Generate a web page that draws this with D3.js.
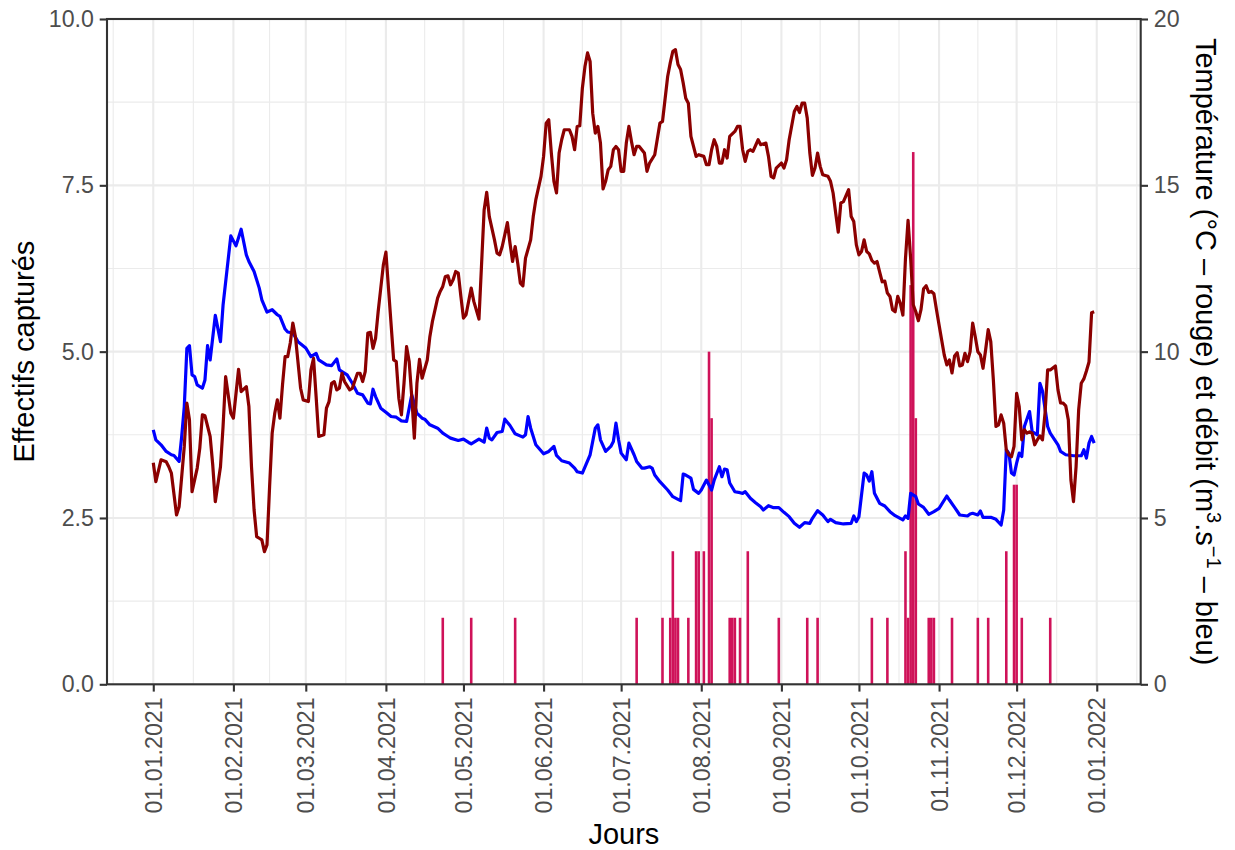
<!DOCTYPE html>
<html><head><meta charset="utf-8">
<script src="https://cdn.jsdelivr.net/npm/d3@7"></script>
<style>body{margin:0;background:#fff;} svg{display:block;font-family:"Liberation Sans",Arial,sans-serif;}</style>
</head><body><svg id="chart" width="1235" height="850"></svg>
<script>
// days counted from 01.01.2021 (0 = 1 Jan 2021)
const captureDays   = [112,123,140,187,197,200,201,202,203,207,210,211,213,215,216,223,224,225,227,230,242,253,257,278,284,291,292,293,294,295,300,301,302,309,319,323,330,333,334,336,347];
const captureCounts = [1,1,1,1,1,1,2,1,1,1,2,2,2,5,4,1,1,1,1,2,1,1,1,1,1,2,1,6,8,4,1,1,1,1,1,1,2,3,3,1,1];

// temperature (°C) : [day, value]
const temperature = [[0,6.66],[1,6.09],[3,6.75],[5,6.69],[6,6.54],[7,6.35],[9,5.09],[10,5.34],[12,7.15],[13,8.45],[14,7.95],[15,5.79],[17,6.50],[18,7.10],[19,8.10],[20,8.07],[22,7.45],[23,6.60],[24,5.49],[26,6.54],[27,7.75],[28,9.25],[30,8.15],[31,8.00],[33,9.47],[34,8.80],[36,8.95],[37,8.35],[38,6.54],[39,5.24],[40,4.44],[41,4.39],[42,4.34],[43,3.99],[44,4.19],[45,5.94],[46,7.55],[47,8.15],[48,8.55],[49,8.00],[50,9.00],[51,9.85],[52,9.85],[53,10.26],[54,10.86],[55,10.45],[57,8.90],[58,8.55],[60,8.50],[61,9.45],[62,9.80],[63,8.65],[64,7.45],[66,7.50],[67,8.30],[68,8.50],[69,9.05],[70,9.10],[71,8.85],[72,8.90],[73,9.35],[74,9.10],[76,8.85],[77,8.90],[79,9.35],[80,9.35],[81,9.10],[82,9.40],[83,10.56],[84,10.58],[85,10.10],[86,10.40],[87,11.20],[88,11.90],[89,12.60],[90,12.99],[91,11.90],[93,9.75],[94,9.70],[95,8.60],[96,8.10],[97,9.05],[98,10.15],[99,9.70],[100,8.65],[101,7.40],[102,9.05],[103,9.77],[104,9.20],[106,9.75],[107,10.45],[108,10.91],[110,11.61],[111,11.81],[112,11.96],[113,12.26],[114,12.28],[115,12.01],[116,12.16],[117,12.41],[118,12.36],[119,11.66],[120,11.01],[121,11.11],[123,11.91],[124,11.51],[126,10.98],[128,14.26],[129,14.79],[130,14.06],[132,13.36],[133,12.96],[134,12.91],[135,13.16],[137,13.88],[138,13.26],[139,12.71],[140,13.16],[141,12.66],[142,12.06],[143,11.98],[144,12.81],[146,13.36],[147,14.06],[148,14.57],[150,15.27],[151,15.87],[152,16.87],[153,16.97],[154,15.97],[155,15.12],[156,14.77],[157,15.97],[158,16.37],[159,16.67],[161,16.67],[162,16.47],[163,16.07],[164,16.77],[165,16.79],[166,17.92],[167,18.57],[168,18.98],[169,18.72],[170,17.17],[171,16.57],[172,16.77],[173,16.27],[174,14.89],[175,15.12],[176,15.47],[177,15.57],[178,16.07],[179,16.17],[180,16.07],[181,15.42],[182,15.42],[183,16.27],[184,16.77],[185,16.32],[186,15.92],[187,16.17],[188,16.17],[190,15.97],[191,15.42],[192,15.67],[194,15.92],[196,16.87],[197,16.92],[199,18.27],[200,18.68],[201,19.03],[202,19.08],[203,18.63],[204,18.48],[205,18.08],[206,17.62],[207,17.47],[208,16.47],[209,16.17],[210,15.87],[211,15.92],[213,15.87],[214,15.62],[215,15.62],[216,16.07],[217,16.37],[218,16.17],[219,15.67],[220,15.67],[221,16.07],[222,15.82],[223,16.47],[225,16.62],[226,16.77],[227,16.77],[228,16.07],[229,15.72],[230,16.02],[231,16.07],[232,16.02],[234,16.37],[235,16.22],[237,16.27],[238,15.87],[239,15.27],[240,15.22],[241,15.52],[243,15.67],[244,15.52],[245,15.77],[246,16.37],[248,17.22],[249,17.37],[250,17.19],[251,17.47],[252,17.47],[253,17.02],[254,15.97],[255,15.30],[256,15.52],[257,15.97],[258,15.57],[259,15.32],[261,15.27],[262,15.12],[263,14.77],[264,14.17],[265,13.59],[266,14.47],[267,14.51],[269,14.87],[270,14.06],[271,13.91],[272,13.21],[273,12.91],[274,13.01],[275,13.36],[276,13.01],[277,12.94],[278,12.74],[279,12.66],[280,12.71],[281,12.40],[282,12.10],[283,12.12],[284,11.76],[285,11.66],[286,11.26],[287,11.20],[288,11.66],[289,11.45],[290,11.10],[291,12.80],[292,13.95],[293,12.80],[294,11.41],[295,11.20],[296,10.93],[297,11.26],[298,11.89],[299,11.98],[300,11.78],[301,11.81],[302,11.74],[303,11.26],[304,10.80],[305,10.35],[306,9.90],[307,9.60],[308,9.75],[309,9.36],[310,9.87],[311,9.97],[312,9.57],[313,9.60],[314,9.95],[315,9.70],[316,10.00],[317,10.86],[318,10.45],[319,10.00],[320,9.90],[321,9.50],[322,10.05],[323,10.66],[324,10.30],[325,9.15],[326,7.75],[327,7.80],[328,8.10],[329,7.85],[330,7.05],[331,6.90],[332,6.84],[333,7.15],[334,8.75],[335,8.35],[336,7.35],[337,7.65],[338,7.55],[339,7.59],[340,7.55],[341,7.20],[342,7.35],[343,7.47],[344,7.35],[345,8.16],[346,9.45],[347,9.45],[348,9.51],[349,9.57],[350,8.85],[351,8.46],[352,8.45],[353,8.37],[354,7.95],[355,6.14],[356,5.49],[357,6.54],[358,8.25],[359,9.05],[360,9.18],[361,9.42],[362,9.69],[363,11.17],[364,11.20]];

// discharge (m3/s) : [day, value]
const discharge = [[0,7.65],[1,7.35],[3,7.20],[5,7.00],[7,6.90],[8,6.88],[10,6.70],[11,7.45],[12,8.35],[13,10.10],[14,10.18],[15,9.30],[16,9.25],[17,9.00],[19,8.90],[20,9.15],[21,10.18],[22,9.75],[24,11.09],[26,10.30],[27,11.40],[30,13.48],[32,13.18],[34,13.68],[36,12.91],[37,12.71],[39,12.41],[41,11.91],[42,11.56],[44,11.19],[46,11.26],[48,11.11],[49,11.06],[51,10.68],[52,10.59],[54,10.56],[56,10.30],[59,10.11],[61,9.85],[63,9.95],[64,9.75],[67,9.60],[69,9.58],[71,9.78],[72,9.45],[73,9.40],[75,9.30],[77,9.05],[79,8.75],[81,8.70],[83,8.45],[84,8.43],[85,8.87],[86,8.65],[88,8.30],[90,8.18],[92,8.05],[94,8.03],[96,7.92],[98,7.90],[100,8.70],[102,8.15],[104,8.00],[105,7.97],[107,7.80],[110,7.70],[112,7.55],[114,7.45],[115,7.40],[118,7.33],[120,7.37],[122,7.27],[123,7.23],[126,7.37],[128,7.28],[129,7.70],[130,7.40],[131,7.35],[133,7.57],[135,7.60],[136,7.97],[138,7.78],[140,7.53],[143,7.43],[144,7.50],[145,8.05],[146,7.70],[148,7.20],[151,6.93],[153,7.00],[155,7.15],[156,6.88],[158,6.72],[161,6.65],[163,6.50],[164,6.39],[166,6.35],[169,6.90],[171,7.70],[172,7.80],[173,7.35],[175,7.00],[177,7.15],[178,7.30],[179,7.85],[180,7.35],[181,6.95],[183,6.75],[184,7.25],[186,6.90],[187,6.70],[189,6.50],[190,6.50],[192,6.54],[193,6.50],[194,6.29],[196,6.09],[199,5.84],[201,5.64],[203,5.56],[204,5.52],[205,6.32],[206,6.29],[208,6.20],[209,5.86],[211,5.74],[212,5.84],[214,6.14],[216,5.84],[217,6.14],[219,6.54],[220,6.24],[221,6.47],[222,6.45],[223,6.05],[225,5.79],[227,5.76],[228,5.74],[229,5.79],[231,5.59],[233,5.46],[235,5.34],[236,5.24],[238,5.37],[240,5.31],[242,5.31],[244,5.17],[246,5.04],[248,4.84],[250,4.72],[252,4.86],[254,4.84],[255,4.99],[257,5.22],[259,5.09],[261,4.89],[262,4.96],[264,4.86],[267,4.82],[270,4.84],[271,5.06],[272,4.89],[273,5.04],[275,6.35],[276,6.29],[277,6.11],[278,6.39],[279,5.74],[281,5.44],[283,5.36],[285,5.19],[287,5.07],[290,4.94],[291,5.06],[292,4.99],[293,5.74],[295,5.64],[296,5.42],[298,5.32],[300,5.11],[302,5.19],[304,5.29],[307,5.66],[308,5.54],[310,5.32],[312,5.09],[315,5.06],[316,5.12],[317,5.14],[319,5.09],[320,5.21],[321,5.02],[324,5.02],[326,4.96],[328,4.79],[329,5.24],[330,7.05],[331,6.95],[332,6.35],[333,6.29],[334,6.65],[335,6.95],[336,6.85],[337,7.75],[339,8.20],[340,7.60],[342,7.50],[343,9.05],[344,8.82],[346,7.75],[347,7.55],[350,7.20],[351,7.00],[353,6.90],[356,6.87],[359,6.87],[360,7.05],[361,6.80],[362,7.25],[363,7.45],[364,7.25]];

const monthTicks = ["2021-01-01","2021-02-01","2021-03-01","2021-04-01","2021-05-01","2021-06-01","2021-07-01","2021-08-01","2021-09-01","2021-10-01","2021-11-01","2021-12-01","2022-01-01"];
const leftTicks  = [0, 2.5, 5, 7.5, 10];
const leftMinor  = [1.25, 3.75, 6.25, 8.75];
const rightTicks = [0, 5, 10, 15, 20];

const panel = {left:107, right:1140.7, top:19, bottom:684.3};
const t0 = Date.UTC(2021,0,1), DAY = 864e5;
const toDate = d => new Date(t0 + d*DAY);
const parse = d3.utcParse("%Y-%m-%d");

const x  = d3.scaleUtc().domain([toDate(-17.9), toDate(382.0)]).range([panel.left, panel.right]);
const yL = d3.scaleLinear().domain([0,10]).range([panel.bottom, panel.top]);
const yR = d3.scaleLinear().domain([0,20]).range([panel.bottom, panel.top]);

const svg = d3.select("#chart");
const GRID = "#EBEBEB", INK = "#333333", TXT = "#4D4D4D";

// grid
const g = svg.append("g");
const majors = monthTicks.map(parse);
const minorX = [];
for (let i = 0; i < majors.length - 1; i++) minorX.push(new Date((+majors[i] + +majors[i+1]) / 2));
minorX.push(new Date(+majors[0] - (+majors[1] - +majors[0]) / 2));
minorX.push(new Date(+majors[majors.length-1] + (+majors[1] - +majors[0]) / 2));
g.selectAll(".mx").data(minorX.filter(d => x(d) > panel.left && x(d) < panel.right)).join("line")
  .attr("x1", d => x(d)).attr("x2", d => x(d)).attr("y1", panel.top).attr("y2", panel.bottom)
  .attr("stroke", GRID).attr("stroke-width", 1.1);
g.selectAll(".my").data(leftMinor).join("line")
  .attr("x1", panel.left).attr("x2", panel.right).attr("y1", d => yL(d)).attr("y2", d => yL(d))
  .attr("stroke", GRID).attr("stroke-width", 1.1);
g.selectAll(".Mx").data(majors).join("line")
  .attr("x1", d => x(d)).attr("x2", d => x(d)).attr("y1", panel.top).attr("y2", panel.bottom)
  .attr("stroke", GRID).attr("stroke-width", 2.1);
g.selectAll(".My").data(leftTicks).join("line")
  .attr("x1", panel.left).attr("x2", panel.right).attr("y1", d => yL(d)).attr("y2", d => yL(d))
  .attr("stroke", GRID).attr("stroke-width", 2.1);

// bars
const captures = captureDays.map((d, i) => ({day: d, n: captureCounts[i]}));
const bw = x(toDate(0.5)) - x(toDate(-0.5));
svg.append("g").selectAll("rect").data(captures).join("rect")
  .attr("x", d => x(toDate(d.day)) - bw/2).attr("width", bw)
  .attr("y", d => yL(d.n)).attr("height", d => yL(0) - yL(d.n))
  .attr("fill", "#CF1259");

// lines
const line = d3.line().x(d => x(toDate(d[0]))).y(d => yR(d[1]));
svg.append("path").datum(discharge).attr("d", line)
  .attr("fill", "none").attr("stroke", "#0000FF").attr("stroke-width", 3.2).attr("stroke-linejoin", "round");
svg.append("path").datum(temperature).attr("d", line)
  .attr("fill", "none").attr("stroke", "#8B0000").attr("stroke-width", 3.2).attr("stroke-linejoin", "round");

// panel border
svg.append("rect").attr("x", panel.left).attr("y", panel.top)
  .attr("width", panel.right - panel.left).attr("height", panel.bottom - panel.top)
  .attr("fill", "none").attr("stroke", INK).attr("stroke-width", 2.1);

function styleAxis(sel) {
  sel.select(".domain").remove();
  sel.selectAll(".tick line").attr("stroke", INK).attr("stroke-width", 2.1);
  sel.selectAll(".tick text").attr("fill", TXT).style("font-size", "23.2px")
     .style("font-family", '"Liberation Sans", Arial, sans-serif');
}

const axL = svg.append("g").attr("transform", `translate(${panel.left},0)`)
  .call(d3.axisLeft(yL).tickValues(leftTicks).tickFormat(d3.format(".1f")).tickSize(7.3).tickPadding(5.8));
styleAxis(axL);
const axR = svg.append("g").attr("transform", `translate(${panel.right},0)`)
  .call(d3.axisRight(yR).tickValues(rightTicks).tickFormat(d3.format("d")).tickSize(7.3).tickPadding(5.8));
styleAxis(axR);
const axB = svg.append("g").attr("transform", `translate(0,${panel.bottom})`)
  .call(d3.axisBottom(x).tickValues(majors).tickFormat(d3.utcFormat("%d.%m.%Y")).tickSize(7.3));
styleAxis(axB);
axB.selectAll(".tick text").attr("transform", "rotate(-90)").attr("x", -13.1).attr("y", 0)
  .attr("dy", "0.35em").style("text-anchor", "end");

// titles
svg.append("text").attr("x", (panel.left + panel.right)/2).attr("y", 844)
  .attr("text-anchor", "middle").style("font-size", "29px").attr("fill", "#000").text("Jours");
svg.append("text").attr("transform", `translate(34,${(panel.top+panel.bottom)/2}) rotate(-90)`)
  .attr("text-anchor", "middle").style("font-size", "29px").attr("fill", "#000").text("Effectifs capturés");
const rt = svg.append("text").attr("transform", `translate(1196,${(panel.top+panel.bottom)/2}) rotate(90)`)
  .attr("text-anchor", "middle").style("font-size", "29px").attr("fill", "#000");
rt.append("tspan").text("Température (°C – rouge) et débit (m");
rt.append("tspan").attr("baseline-shift", "super").style("font-size", "20px").text("3");
rt.append("tspan").text(".s");
rt.append("tspan").attr("baseline-shift", "super").style("font-size", "20px").text("−1");
rt.append("tspan").text(" – bleu)");
</script></body></html>
